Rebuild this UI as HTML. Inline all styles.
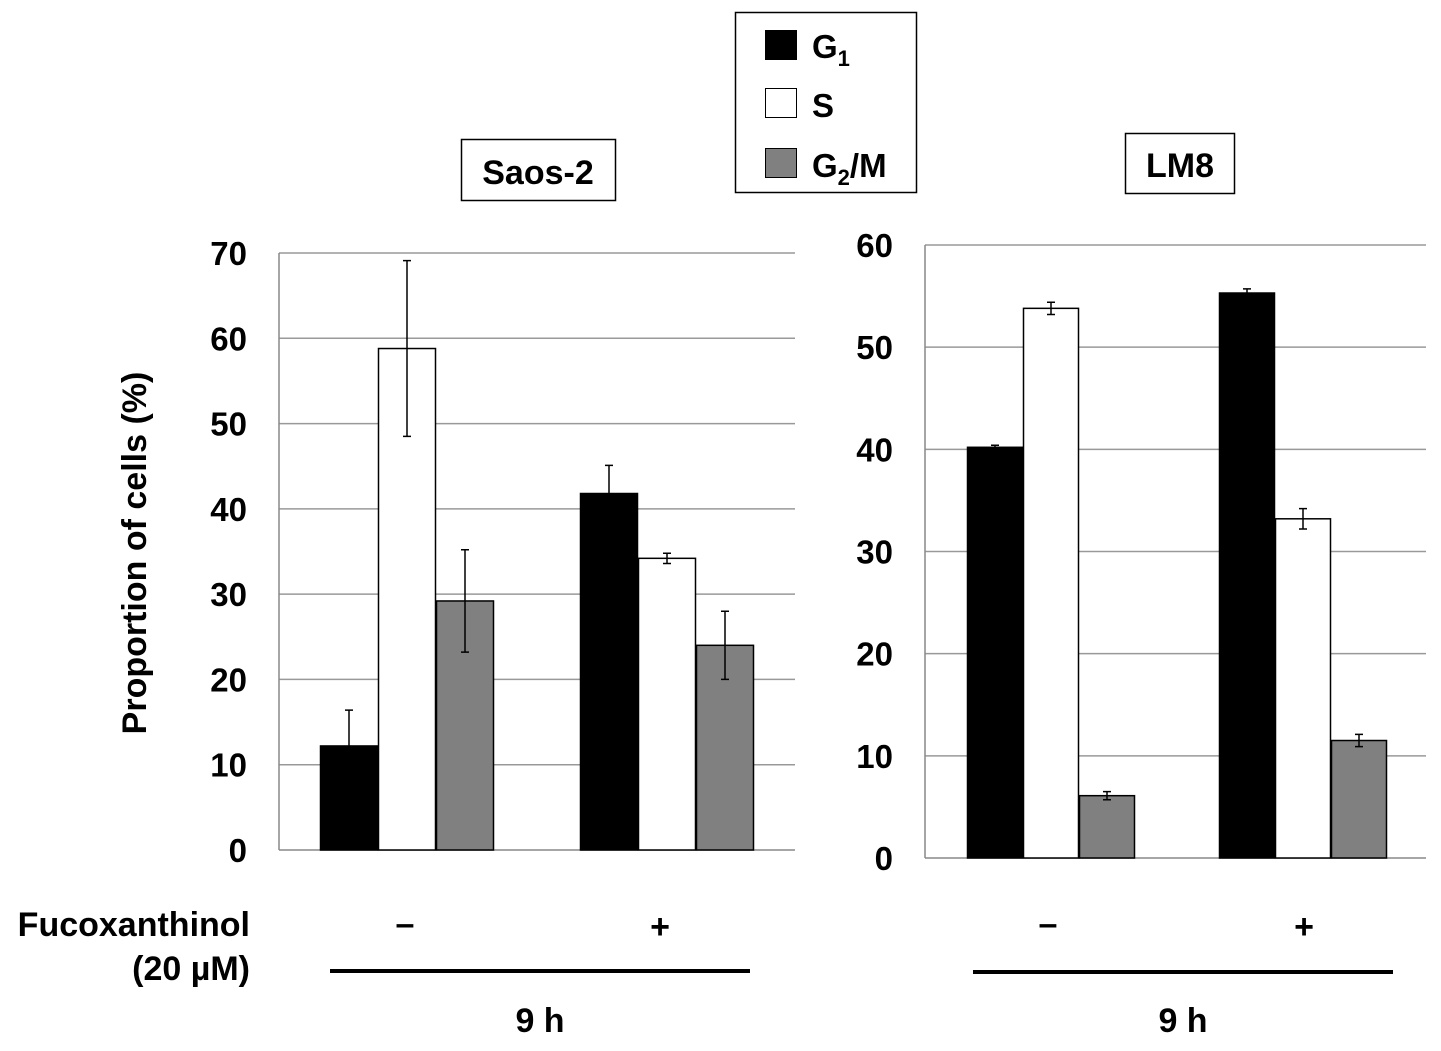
<!DOCTYPE html>
<html><head><meta charset="utf-8"><style>
body{margin:0;background:#fff;}
svg text{font-family:"Liberation Sans",Arial,sans-serif;font-weight:bold;fill:#000;}
</style></head><body>
<svg id="c" width="1441" height="1046" xmlns="http://www.w3.org/2000/svg">
<g>
<rect x="735.5" y="12.5" width="181" height="180" fill="#fff" stroke="#000" stroke-width="1.5"/>
<rect x="765" y="30" width="32" height="30" fill="#000"/>
<text x="812" y="58" font-size="33">G<tspan font-size="22" dy="8">1</tspan></text>
<rect x="765.5" y="88.5" width="31" height="29" fill="#fff" stroke="#000"/>
<text x="812" y="117" font-size="33">S</text>
<rect x="765.5" y="148.5" width="31" height="29" fill="#808080" stroke="#000"/>
<text x="812" y="177" font-size="33">G<tspan font-size="22" dy="8">2</tspan><tspan dy="-8">/M</tspan></text>
</g>
<rect x="461.5" y="139.5" width="154" height="61" fill="#fff" stroke="#000" stroke-width="1.5"/>
<text x="538" y="184" font-size="34" text-anchor="middle">Saos-2</text>
<rect x="1125.5" y="133.5" width="109" height="60" fill="#fff" stroke="#000" stroke-width="1.5"/>
<text x="1180" y="177" font-size="34" text-anchor="middle">LM8</text>
<text transform="translate(146,553) rotate(-90)" font-size="34" text-anchor="middle">Proportion of cells (%)</text>
<text x="250" y="936" font-size="34" text-anchor="end">Fucoxanthinol</text>
<text x="250" y="980" font-size="34" text-anchor="end">(20 µM)</text>
<text x="405" y="935" font-size="34" text-anchor="middle">–</text>
<text x="660" y="938" font-size="34" text-anchor="middle">+</text>
<text x="1048" y="935" font-size="34" text-anchor="middle">–</text>
<text x="1304" y="938" font-size="34" text-anchor="middle">+</text>
<line x1="330" y1="971" x2="750" y2="971" stroke="#000" stroke-width="4"/>
<line x1="973" y1="972" x2="1393" y2="972" stroke="#000" stroke-width="4"/>
<text x="540" y="1032" font-size="34" text-anchor="middle">9 h</text>
<text x="1183" y="1032" font-size="34" text-anchor="middle">9 h</text>
</svg>
<script>
const phases=['G1','S','G2M'];
const saosTicks=[0,10,20,30,40,50,60,70];
const saosMinus=[12.2,58.8,29.2];
const saosMinusErr=[4.2,10.3,6.0];
const saosPlus=[41.8,34.2,24.0];
const saosPlusErr=[3.3,0.6,4.0];
const lmTicks=[0,10,20,30,40,50,60];
const lmMinus=[40.2,53.8,6.1];
const lmMinusErr=[0.2,0.6,0.4];
const lmPlus=[55.3,33.2,11.5];
const lmPlusErr=[0.4,1.0,0.6];
const fills=['#000','#fff','#808080'];
const svg=document.getElementById('c');
const NS='http://www.w3.org/2000/svg';
function mk(t,a){const e=document.createElementNS(NS,t);for(const k in a)e.setAttribute(k,a[k]);svg.appendChild(e);return e;}
function chart(p){
  const y=v=>p.y0-(v-p.ticks[0])/(p.ticks[p.ticks.length-1]-p.ticks[0])*(p.y0-p.y1);
  p.ticks.forEach(t=>{
    const l=mk('line',{x1:p.x0,x2:p.x1,y1:y(t),y2:y(t),stroke:t===0?'#888':'#999','stroke-width':1.5});
    
    
    const tx=mk('text',{x:p.x0-32,y:y(t)+12,'font-size':33,'text-anchor':'end'});
    tx.textContent=t;
    
    
  });
  const ax=mk('line',{x1:p.x0,x2:p.x0,y1:y(0),y2:p.y1,stroke:'#888','stroke-width':1.5});
  
  
  p.groups.forEach((g,gi)=>{
    g.vals.forEach((v,i)=>{
      const bx=p.gx[gi]+i*p.bw;
      const r=mk('rect',{x:bx+0.5,y:y(v),width:p.bw-1,height:y(0)-y(v),fill:fills[i],stroke:'#000','stroke-width':1.5});
      
      
      const cx=bx+p.bw/2,e=g.err[i];
      const eb=mk('path',{d:`M${cx},${y(v+e)}V${y(v-e)}M${cx-4},${y(v+e)}H${cx+4}M${cx-4},${y(v-e)}H${cx+4}`,stroke:'#000','stroke-width':1.5,fill:'none'});
      
      
    });
  });
}
chart({name:'saos2',ticks:saosTicks,x0:279,x1:795,y0:850,y1:253,bw:58,gx:[320,580],groups:[{n:'minus',vals:saosMinus,err:saosMinusErr},{n:'plus',vals:saosPlus,err:saosPlusErr}]});
chart({name:'lm8',ticks:lmTicks,x0:925,x1:1426,y0:858,y1:245,bw:56,gx:[967,1219],groups:[{n:'minus',vals:lmMinus,err:lmMinusErr},{n:'plus',vals:lmPlus,err:lmPlusErr}]});
</script>
</body></html>
